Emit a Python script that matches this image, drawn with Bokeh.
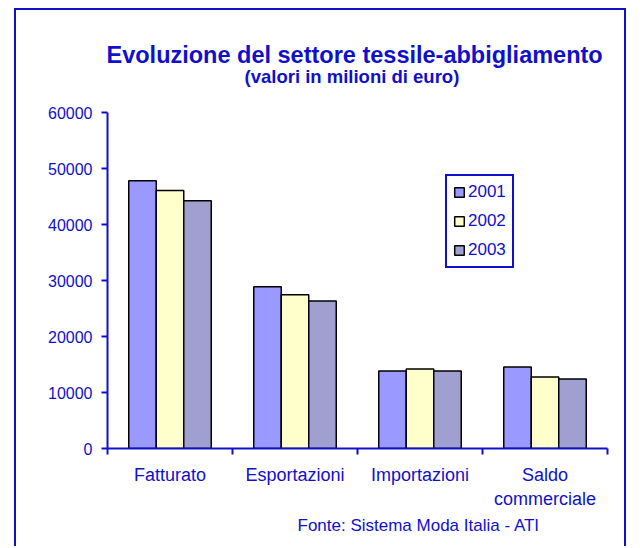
from bokeh.plotting import figure
from bokeh.models import (ColumnDataSource, FixedTicker, Legend, LegendItem,
                          Title, Range1d)
from bokeh.transform import dodge
from bokeh.embed import file_html
from bokeh.resources import INLINE

# ---- data ----
categories = ["Fatturato", "Esportazioni", "Importazioni", "Saldo\ncommerciale"]
years = ["2001", "2002", "2003"]
v2001 = [47800, 28900, 13850, 14550]
v2002 = [46050, 27450, 14200, 12750]
v2003 = [44250, 26350, 13850, 12400]
y_ticks = [0, 10000, 20000, 30000, 40000, 50000, 60000]

title_text = "Evoluzione del settore tessile-abbigliamento"
subtitle_text = "(valori in milioni di euro)"
source_text = "Fonte: Sistema Moda Italia - ATI"

BLUE = "#1010CC"
FONT = "Liberation Sans"
colors = ["#9999FF", "#FFFFCC", "#A0A0D0"]

idx = list(range(len(categories)))
src = ColumnDataSource(dict(x=idx, y2001=v2001, y2002=v2002, y2003=v2003))

p = figure(width=612, height=538,
           x_range=Range1d(-0.5, len(categories) - 0.5),
           y_range=Range1d(0, 60000),
           output_backend="svg", toolbar_location=None,
           min_border_left=91, min_border_right=21,
           min_border_top=102, min_border_bottom=100)
p.title.visible = False
p.outline_line_color = None
p.xgrid.visible = False
p.ygrid.visible = False
p.background_fill_color = "white"
p.border_fill_color = "white"
p.styles = {"border-top": f"2px solid {BLUE}",
            "border-left": f"2px solid {BLUE}",
            "border-right": f"2px solid {BLUE}",
            "margin-left": "14px",
            "margin-top": "8px"}

bw = 0.22
renderers = []
for j, (yr, col) in enumerate(zip(years, colors)):
    r = p.vbar(x=dodge("x", (j - 1) * bw, range=p.x_range), top="y" + yr,
               width=bw, source=src, fill_color=col,
               line_color="black", line_width=1.5)
    renderers.append(r)

# y axis
ya = p.yaxis[0]
ya.ticker = FixedTicker(ticks=y_ticks)
ya.formatter.use_scientific = False
ya.major_tick_out = 6
ya.major_tick_in = 0
ya.minor_tick_out = 0
ya.minor_tick_in = 0
ya.axis_line_color = BLUE
ya.axis_line_width = 2
ya.major_tick_line_color = BLUE
ya.major_tick_line_width = 2
ya.major_label_text_color = BLUE
ya.major_label_text_font = FONT
ya.major_label_text_font_size = "16px"
ya.major_label_standoff = 9

# x axis
xa = p.xaxis[0]
xa.ticker = FixedTicker(ticks=idx, minor_ticks=[i - 0.5 for i in range(len(categories) + 1)])
xa.major_label_overrides = {i: c for i, c in zip(idx, categories)}
xa.major_tick_out = 0
xa.major_tick_in = 0
xa.minor_tick_out = 6
xa.minor_tick_in = 0
xa.minor_tick_line_color = BLUE
xa.minor_tick_line_width = 2
xa.axis_line_color = BLUE
xa.axis_line_width = 2
xa.major_label_text_color = BLUE
xa.major_label_text_font = FONT
xa.major_label_text_font_size = "18px"
xa.major_label_standoff = 10

# legend
legend = Legend(items=[LegendItem(label=yr, renderers=[r]) for yr, r in zip(years, renderers)],
                location=(338, 180))
legend.border_line_color = BLUE
legend.border_line_width = 2
legend.border_line_alpha = 1
legend.background_fill_color = "white"
legend.background_fill_alpha = 1
legend.label_text_font = FONT
legend.label_text_font_size = "17px"
legend.label_text_color = BLUE
legend.glyph_width = 12
legend.glyph_height = 12
legend.label_standoff = 3
legend.label_height = 20
legend.padding = 6
legend.spacing = 9
legend.margin = 0
p.add_layout(legend)

# titles (spacer closest to the frame, then subtitle, then main title)
spacer = Title(text=" ", text_font=FONT, text_font_size="10px", standoff=12)
sub = Title(text=subtitle_text, align="left", offset=137, text_font=FONT,
            text_font_size="18.5px", text_font_style="bold", text_color=BLUE,
            standoff=2)
main = Title(text=title_text, align="left", offset=-1, text_font=FONT,
             text_font_size="23.5px", text_font_style="bold", text_color=BLUE,
             standoff=-10)
p.add_layout(spacer, "above")
p.add_layout(sub, "above")
p.add_layout(main, "above")

src_title = Title(text=source_text, align="left", offset=190, text_font=FONT,
                  text_font_size="17px", text_font_style="normal", text_color=BLUE,
                  standoff=4)
p.add_layout(src_title, "below")

open("out.html", "w").write(file_html(p, INLINE))
